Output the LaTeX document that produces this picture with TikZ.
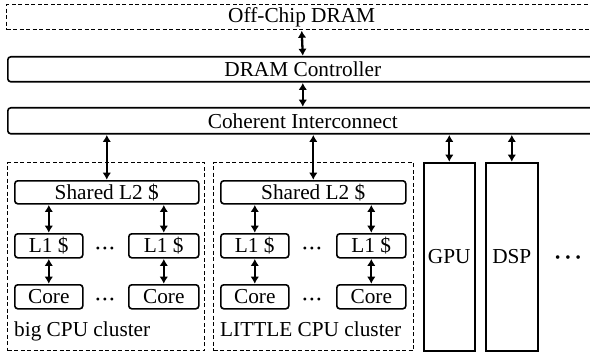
\documentclass[tikz,border=0pt]{standalone}
\usepackage{fontspec}
\setmainfont{Liberation Serif}
\newfontfamily\tnr{Liberation Serif}
\usetikzlibrary{arrows.meta}
\newcommand{\smalldots}{{\fontsize{12}{12}\selectfont\textbullet\hspace{2.8pt}\textbullet\hspace{2.8pt}\textbullet}}
\newcommand{\bigdots}{{\fontsize{15}{15}\selectfont\textbullet\hspace{5pt}\textbullet\hspace{5pt}\textbullet}}
\begin{document}
\begin{tikzpicture}[x=1pt,y=-1pt,
  every node/.style={font=\tnr\fontsize{21.3}{23}\selectfont, inner sep=0pt},
  rbox/.style={draw, line width=1.6pt, rounded corners=3pt, anchor=north west},
  dbox/.style={draw, line width=1.4pt, dashed, dash pattern=on 4pt off 2.5pt, anchor=north west},
  sbox/.style={draw, line width=1.6pt, anchor=north west},
  dotsnode/.style={anchor=base},
  dar/.style={line width=2.3pt, {Latex[length=7pt,width=8.5pt]}-{Latex[length=7pt,width=8.5pt]}, shorten <=0.3pt, shorten >=0.3pt}]
\useasboundingbox (0,0) rectangle (590,353);
\clip (0,0) rectangle (590,353);
% top level
\node[dbox, minimum width=590pt, minimum height=25pt] (dram) at (6,4) {Off-Chip DRAM};
\node[rbox, minimum width=590pt, minimum height=25pt] (ctrl) at (7,56) {DRAM Controller};
\node[rbox, minimum width=590pt, minimum height=26pt] (coh) at (7,107) {Coherent Interconnect};
% clusters
\node[dbox, minimum width=197pt, minimum height=188pt] (bigcl) at (7,162) {};
\node[dbox, minimum width=200pt, minimum height=188pt] (litcl) at (213,162) {};
% big cluster
\node[rbox, minimum width=184pt, minimum height=23pt] (bigL2) at (14,180) {Shared L2 \$};
\node[rbox, minimum width=68pt, minimum height=24pt] (bigL1a) at (14,233) {L1 \$};
\node[rbox, minimum width=70pt, minimum height=24pt] (bigL1b) at (128,233) {L1 \$};
\node[rbox, minimum width=68pt, minimum height=24pt] (bigCa) at (14,284) {Core};
\node[rbox, minimum width=70pt, minimum height=24pt] (bigCb) at (128,284) {Core};
\node[dotsnode] (bigd1) at (105,252) {\smalldots};
\node[dotsnode] (bigd2) at (105,303) {\smalldots};
\node[anchor=base west] (biglab) at (14,336) {big CPU cluster};
% LITTLE cluster
\node[rbox, minimum width=185pt, minimum height=23pt] (litL2) at (220,180) {Shared L2 \$};
\node[rbox, minimum width=68pt, minimum height=24pt] (litL1a) at (220,233) {L1 \$};
\node[rbox, minimum width=69pt, minimum height=24pt] (litL1b) at (336,233) {L1 \$};
\node[rbox, minimum width=68pt, minimum height=24pt] (litCa) at (220,284) {Core};
\node[rbox, minimum width=69pt, minimum height=24pt] (litCb) at (336,284) {Core};
\node[dotsnode] (litd1) at (312,252) {\smalldots};
\node[dotsnode] (litd2) at (312,303) {\smalldots};
\node[anchor=base west] (litlab) at (220,336) {LITTLE CPU cluster};
% GPU DSP
\node[sbox, minimum width=51pt, minimum height=188pt] (gpu) at (423,162) {GPU};
\node[sbox, minimum width=52pt, minimum height=188pt] (dsp) at (485,162) {DSP};
\node[dotsnode] (more) at (568,262) {\bigdots};
% arrows
\draw[dar] (dram.south) -- (ctrl.north);
\draw[dar] (ctrl.south) -- (coh.north);
\draw[dar] (coh.south -| bigL2.north) -- (bigL2.north);
\draw[dar] (coh.south -| litL2.north) -- (litL2.north);
\draw[dar] (coh.south -| gpu.north) -- (gpu.north);
\draw[dar] (coh.south -| dsp.north) -- (dsp.north);
\draw[dar] (bigL2.south -| bigL1a.north) -- (bigL1a.north);
\draw[dar] (bigL2.south -| bigL1b.north) -- (bigL1b.north);
\draw[dar] (bigL1a.south) -- (bigCa.north);
\draw[dar] (bigL1b.south) -- (bigCb.north);
\draw[dar] (litL2.south -| litL1a.north) -- (litL1a.north);
\draw[dar] (litL2.south -| litL1b.north) -- (litL1b.north);
\draw[dar] (litL1a.south) -- (litCa.north);
\draw[dar] (litL1b.south) -- (litCb.north);
\end{tikzpicture}
\end{document}
